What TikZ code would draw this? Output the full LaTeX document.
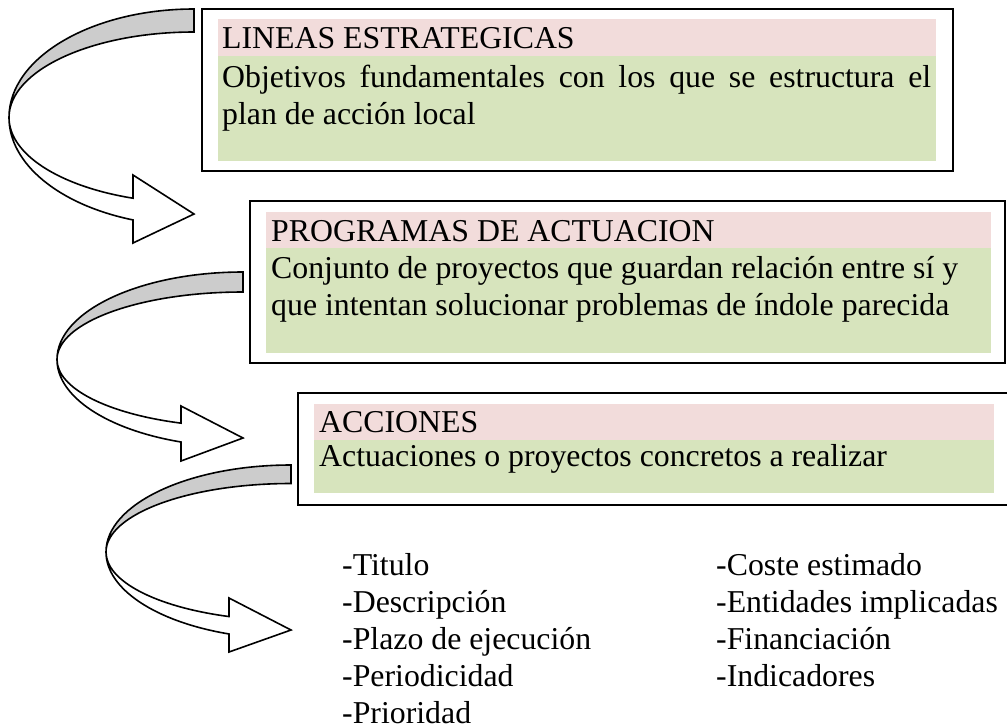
\documentclass[tikz,border=0pt]{standalone}
\usepackage{fontspec}
\setmainfont{Liberation Serif}
\usepackage{tikz}

\definecolor{rosa}{HTML}{F2DCDB}
\definecolor{verde}{HTML}{D7E4BD}
\definecolor{lomo}{HTML}{CCCCCC}

\tikzset{
	texto/.style={anchor=base west, inner sep=0pt, font=\fontsize{31.8}{37}\selectfont},
	caja/.style={draw, line width=2.4pt},
	flecha/.style={draw, line width=1.6pt, line join=miter},
}

\begin{document}
\begin{tikzpicture}[x=1pt, y=-1pt]

	\clip (0,0) rectangle (1007,724);

	% flechas curvas: centro, radios, base y punta
	\foreach \cx/\cy/\rx/\ro/\ri/\bx/\ha/\hb/\ty in {
	194/117.5/185/108.5/85.5/133/175/243/214,
	243/359.5/186/87.5/67.5/181/406/461/438,
	291/552/185/87/68.5/229/598/652/630}
	{
		\pgfmathsetmacro\ang{acos(-(\cx-\bx)/\rx)}
		\filldraw[flecha, fill=lomo] (\cx,\cy-\ro)
			arc[start angle=270, end angle=180, x radius=\rx, y radius=\ro]
			arc[start angle=180, end angle=270, x radius=\rx, y radius=\ri] -- cycle;
		\filldraw[flecha, fill=white] (\cx-\rx,\cy)
			arc[start angle=180, end angle=\ang, x radius=\rx, y radius=\ro]
			-- (\bx,\hb) -- (\cx,\ty) -- (\bx,\ha) -- (\bx,{\cy+\ri*sin(\ang)})
			arc[start angle=\ang, end angle=180, x radius=\rx, y radius=\ri] -- cycle;
	};

	% cajas
	\foreach \x/\y/\xx/\yy in {
	202/9/953/171,
	250/201/1005/363,
	298/393/1015/505}
	{
		\draw[caja] (\x,\y) rectangle (\xx,\yy);
	};
	\foreach \x/\ya/\yb/\yc/\xx in {
	218/19/56/161/936,
	266/212/248/353/991,
	314/404/440/493/994}
	{
		\fill[rosa] (\x,\ya) rectangle (\xx,\yb);
		\fill[verde] (\x,\yb) rectangle (\xx,\yc);
	};

	\node[texto] (lineas) at (222,48) {LINEAS ESTRATEGICAS};
	\node[texto] (objetivos) at (222,87) {\makebox[709pt][s]{Objetivos fundamentales con los que se estructura el}};
	\node[texto] (plan) at (222,124) {plan de acción local};

	\node[texto] (programas) at (271,241) {PROGRAMAS DE ACTUACION};
	\node[texto] (conjunto) at (271,278) {Conjunto de proyectos que guardan relación entre sí y};
	\node[texto] (intentan) at (271,315) {que intentan solucionar problemas de índole parecida};

	\node[texto] (acciones) at (319,432) {ACCIONES};
	\node[texto] (actuaciones) at (319,466) {Actuaciones o proyectos concretos a realizar};

	% datos de cada accion
	\foreach \t [count=\i] in {-Titulo, -Descripción, -Plazo de ejecución, -Periodicidad, -Prioridad}
	{
		\node[texto] (izq\i) at (342,{538+37*\i}) {\t};
	};
	\foreach \t [count=\i] in {-Coste estimado, -Entidades implicadas, -Financiación, -Indicadores}
	{
		\node[texto] (der\i) at (716,{538+37*\i}) {\t};
	};
\end{tikzpicture}
\end{document}
